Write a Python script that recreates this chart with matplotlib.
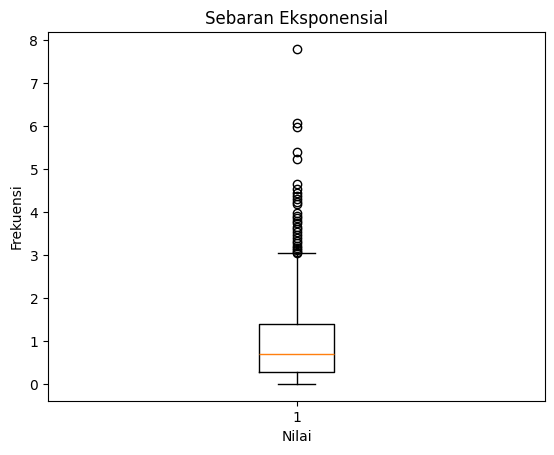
import matplotlib
matplotlib.use("Agg")
import matplotlib.pyplot as plt

labels = ["1"]
q1 = [0.295]
median = [0.705]
q3 = [1.39]
whisker_low = [0.0]
whisker_high = [3.04]
fliers = [[7.80, 6.07, 5.98, 5.41, 5.24, 4.66, 4.55, 4.45, 4.38, 4.30, 4.24, 4.18,
           3.98, 3.92, 3.86, 3.80, 3.74, 3.66, 3.60, 3.54, 3.47, 3.40, 3.34, 3.28,
           3.22, 3.17, 3.12, 3.08, 3.05]]

stats = []
for i in range(len(labels)):
    stats.append(dict(label=labels[i], q1=q1[i], med=median[i], q3=q3[i],
                      whislo=whisker_low[i], whishi=whisker_high[i], fliers=fliers[i]))

fig = plt.figure(figsize=(5.54, 4.55), dpi=100)
ax = fig.add_axes([48/554, 1-401/455, (545-48)/554, (401-32)/455])
ax.bxp(stats)
ax.set_title("Sebaran Eksponensial")
ax.set_xlabel("Nilai")
ax.set_ylabel("Frekuensi")
fig.savefig("out.png", dpi=100)
